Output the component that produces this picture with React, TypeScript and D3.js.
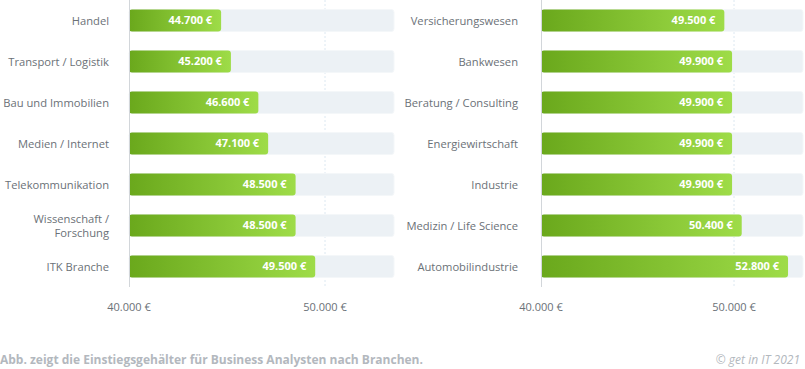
import React, { useEffect, useRef } from 'react';
import * as d3 from 'd3';

// left panel data
const leftCategories = [
  'Handel',
  'Transport / Logistik',
  'Bau und Immobilien',
  'Medien / Internet',
  'Telekommunikation',
  'Wissenschaft / Forschung',
  'ITK Branche',
];
const leftValues = [44700, 45200, 46600, 47100, 48500, 48500, 49500];

// right panel data
const rightCategories = [
  'Versicherungswesen',
  'Bankwesen',
  'Beratung / Consulting',
  'Energiewirtschaft',
  'Industrie',
  'Medizin / Life Science',
  'Automobilindustrie',
];
const rightValues = [49500, 49900, 49900, 49900, 49900, 50400, 52800];

const tickValues = [40000, 50000];
const tickLabels = ['40.000 €', '50.000 €'];

const caption = 'Abb. zeigt die Einstiegsgehälter für Business Analysten nach Branchen.';
const credit = '© get in IT 2021';

const W = 805;
const H = 369;

const colors = {
  label: '#6b7177',
  axis: '#d2d6da',
  grid: '#dce8f1',
  track: '#ecf1f5',
  trackStroke: '#f4f7f9',
  barDark: '#6aa81c',
  barLight: '#9edc48',
  footer: '#b3b8be',
};

const fmt = (v: number) => d3.format(',')(v).replace(/,/g, '.') + ' €';

const App = () => {
  const svgRef = useRef<SVGSVGElement | null>(null);

  useEffect(() => {
    if (!svgRef.current) return;
    const svg = d3.select(svgRef.current);
    svg.selectAll('*').remove();

    const defs = svg.append('defs');
    const grad = defs
      .append('linearGradient')
      .attr('id', 'barGrad')
      .attr('x1', '0%')
      .attr('x2', '100%')
      .attr('y1', '0%')
      .attr('y2', '0%');
    grad.append('stop').attr('offset', '0%').attr('stop-color', colors.barDark);
    grad.append('stop').attr('offset', '100%').attr('stop-color', colors.barLight);

    const font = "'Open Sans', sans-serif";

    const drawPanel = (
      cats: string[],
      vals: number[],
      x0: number,
      x1: number,
      x50: number,
      labelX: number
    ) => {
      const x = d3
        .scaleLinear()
        .domain([40000, 50000])
        .range([x0, x50]);
      const trackEnd = x1;

      const y = d3
        .scaleBand<string>()
        .domain(cats)
        .range([0, 287])
        .paddingInner(0.46)
        .paddingOuter(0.23);

      const g = svg.append('g');

      // dashed grid line at 50k
      g.append('line')
        .attr('x1', x(50000))
        .attr('x2', x(50000))
        .attr('y1', 0)
        .attr('y2', 287)
        .attr('stroke', colors.grid)
        .attr('stroke-width', 1)
        .attr('stroke-dasharray', '2,2');

      // tracks
      g.selectAll('rect.track')
        .data(cats)
        .join('rect')
        .attr('class', 'track')
        .attr('x', x0)
        .attr('y', (d) => y(d)!)
        .attr('width', trackEnd - x0)
        .attr('height', y.bandwidth())
        .attr('rx', 3)
        .attr('fill', colors.track)
        .attr('stroke', colors.trackStroke)
        .attr('stroke-width', 1);

      // bars
      g.selectAll('rect.bar')
        .data(vals)
        .join('rect')
        .attr('class', 'bar')
        .attr('x', x0)
        .attr('y', (_, i) => y(cats[i])!)
        .attr('width', (d) => x(d) - x0)
        .attr('height', y.bandwidth())
        .attr('rx', 3)
        .attr('fill', 'url(#barGrad)');

      // value labels
      g.selectAll('text.val')
        .data(vals)
        .join('text')
        .attr('class', 'val')
        .attr('x', (d) => x(d) - 9)
        .attr('y', (_, i) => y(cats[i])! + y.bandwidth() / 2)
        .attr('dy', '0.36em')
        .attr('text-anchor', 'end')
        .attr('font-family', font)
        .attr('font-size', 11)
        .attr('font-weight', 700)
        .attr('fill', '#ffffff')
        .text((d) => fmt(d));

      // axis line
      g.append('line')
        .attr('x1', x0 + 0.5)
        .attr('x2', x0 + 0.5)
        .attr('y1', 0)
        .attr('y2', 287)
        .attr('stroke', colors.axis)
        .attr('stroke-width', 1);

      // category labels
      cats.forEach((c) => {
        const cy = y(c)! + y.bandwidth() / 2;
        const lines = c === 'Wissenschaft / Forschung' ? ['Wissenschaft /', 'Forschung'] : [c];
        const t = g
          .append('text')
          .attr('x', labelX)
          .attr('text-anchor', 'end')
          .attr('font-family', font)
          .attr('font-size', 11.2)
          .attr('fill', colors.label);
        lines.forEach((ln, k) => {
          t.append('tspan')
            .attr('x', labelX)
            .attr('y', cy + (k - (lines.length - 1) / 2) * 14)
            .attr('dy', '0.36em')
            .text(ln);
        });
      });

      // tick labels
      g.selectAll('text.tick')
        .data(tickValues)
        .join('text')
        .attr('class', 'tick')
        .attr('x', (d) => x(d))
        .attr('y', 307)
        .attr('dy', '0.36em')
        .attr('text-anchor', 'middle')
        .attr('font-family', font)
        .attr('font-size', 11)
        .attr('fill', colors.label)
        .text((_, i) => tickLabels[i]);
    };

    drawPanel(leftCategories, leftValues, 129, 394, 325, 109);
    drawPanel(rightCategories, rightValues, 541, 803, 734, 518);

    svg
      .append('text')
      .attr('x', 0)
      .attr('y', 364)
      .attr('font-family', font)
      .attr('font-size', 12)
      .attr('font-weight', 700)
      .attr('fill', colors.footer)
      .text(caption);

    svg
      .append('text')
      .attr('x', 800)
      .attr('y', 364)
      .attr('text-anchor', 'end')
      .attr('font-family', font)
      .attr('font-size', 12)
      .attr('font-style', 'italic')
      .attr('fill', colors.footer)
      .text(credit);
  }, []);

  return (
    <div style={{ position: 'absolute', left: 0, top: 0, width: W, height: H, background: '#fff' }}>
      <svg ref={svgRef} width={W} height={H} />
    </div>
  );
};

export default App;
